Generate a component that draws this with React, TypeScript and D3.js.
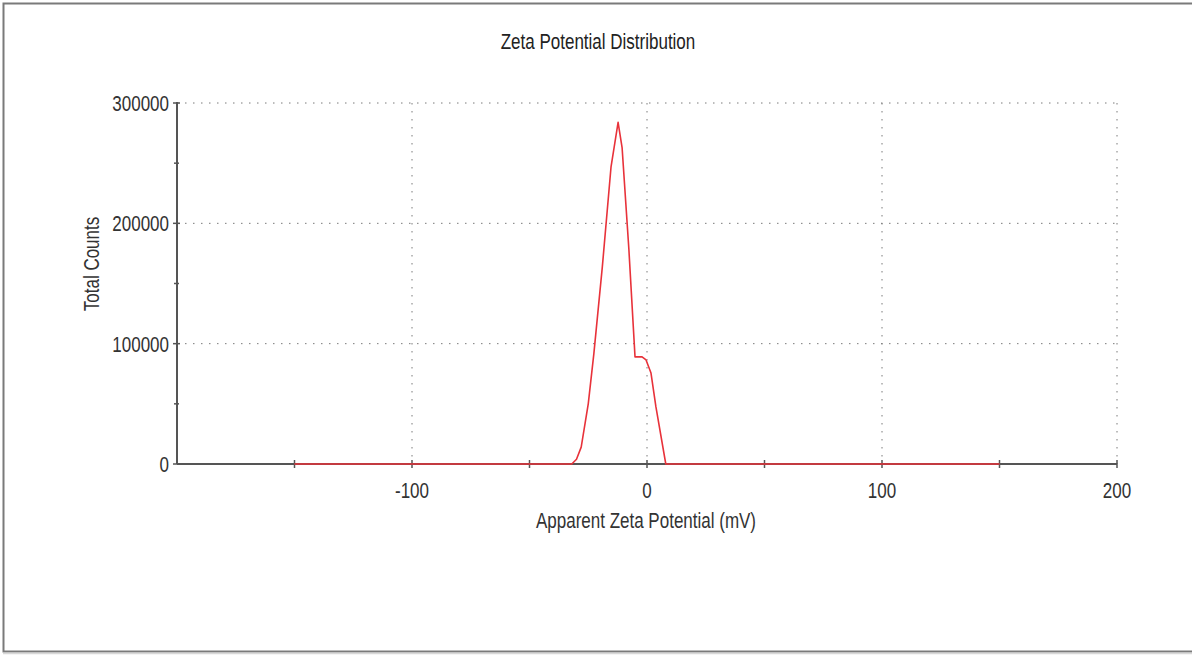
import React from "react";
import * as d3 from "d3";

// values
const potential = [-150, -32, -30, -28, -25, -22.6, -19, -15.3, -12.3, -10.6, -7.7, -5.1, -2.1, -0.4, 1.7, 3.8, 8, 150];
const counts = [0, 0, 4000, 14000, 50000, 92000, 164000, 247000, 284000, 263000, 178000, 89000, 89000, 86500, 75600, 47400, 0, 0];

const xTicks = [-100, 0, 100, 200];
const xMinor = [-150, -50, 50, 150];
const yTicks = [0, 100000, 200000, 300000];
const yMinor = [50000, 150000, 250000];

const W = 1192, H = 655;
const font = "'Liberation Sans', Arial, sans-serif";
const FS = 17;
const STRETCH = 1.28;

// the reference uses a tall, narrow face: draw regular text stretched vertically
function Label(props: { x: number; y: number; anchor?: string; rotate?: number; children: React.ReactNode; fill?: string }) {
  const rot = props.rotate ? ` rotate(${props.rotate})` : "";
  return (
    <text
      transform={`translate(${props.x},${props.y})${rot} scale(1,${STRETCH})`}
      textAnchor={props.anchor || "middle"}
      fontFamily={font}
      fontSize={FS}
      fill={props.fill || "#333"}
    >
      {props.children}
    </text>
  );
}

export default function App() {
  const x = d3.scaleLinear().domain([-200, 200]).range([177, 1117]);
  const y = d3.scaleLinear().domain([0, 300000]).range([464, 103]);

  const line = d3.line<number>()
    .x((d, i) => x(potential[i]))
    .y(d => y(d))
    .curve(d3.curveLinear);

  const axisCol = "#555";
  const gridCol = "#7a7a7a";

  return (
    <svg width={W} height={H} style={{ position: "absolute", left: 0, top: 0, background: "#fff" }}>
      {/* frame */}
      <rect x={3.5} y={3.5} width={W + 10} height={648} fill="none" stroke="#7a7a7a" strokeWidth={2} />
      <line x1={3} x2={W} y1={653.5} y2={653.5} stroke="#d8d8d8" strokeWidth={1.5} />

      <Label x={598} y={49} fill="#222">Zeta Potential Distribution</Label>

      {/* grid */}
      {xTicks.map(t => (
        <line key={"gx" + t} x1={x(t)} x2={x(t)} y1={y(300000)} y2={y(0)}
          stroke={gridCol} strokeWidth={1} strokeDasharray="1.5,6.5" />
      ))}
      {yTicks.filter(t => t > 0).map(t => (
        <line key={"gy" + t} x1={x(-200)} x2={x(200)} y1={y(t)} y2={y(t)}
          stroke={gridCol} strokeWidth={1} strokeDasharray="1.5,6.5" />
      ))}

      {/* axes */}
      <line x1={x(-200)} x2={x(-200)} y1={y(300000) - 1} y2={y(0)} stroke={axisCol} strokeWidth={2} />
      <line x1={x(-200)} x2={x(200)} y1={y(0)} y2={y(0)} stroke={axisCol} strokeWidth={2} />
      {yTicks.map(t => (
        <g key={"yt" + t}>
          <line x1={x(-200) - 4} x2={x(-200) + 3} y1={y(t)} y2={y(t)} stroke={axisCol} strokeWidth={1.5} />
          <Label x={x(-200) - 8} y={y(t) + 8} anchor="end">{t}</Label>
        </g>
      ))}
      {yMinor.map(t => (
        <line key={"ym" + t} x1={x(-200) - 3} x2={x(-200) + 2} y1={y(t)} y2={y(t)} stroke={axisCol} strokeWidth={1.5} />
      ))}
      {xTicks.concat(xMinor).map(t => (
        <line key={"xt" + t} x1={x(t)} x2={x(t)} y1={y(0) - 4} y2={y(0) + 4} stroke={axisCol} strokeWidth={1.5} />
      ))}
      {xTicks.map(t => (
        <Label key={"xl" + t} x={x(t)} y={y(0) + 34}>{t}</Label>
      ))}

      <Label x={646} y={528}>Apparent Zeta Potential (mV)</Label>
      <Label x={99} y={264} rotate={-90}>Total Counts</Label>

      {/* distribution */}
      <path d={line(counts) || ""} fill="none" stroke="#e8323a" strokeWidth={1.6} strokeLinejoin="round" />
    </svg>
  );
}
